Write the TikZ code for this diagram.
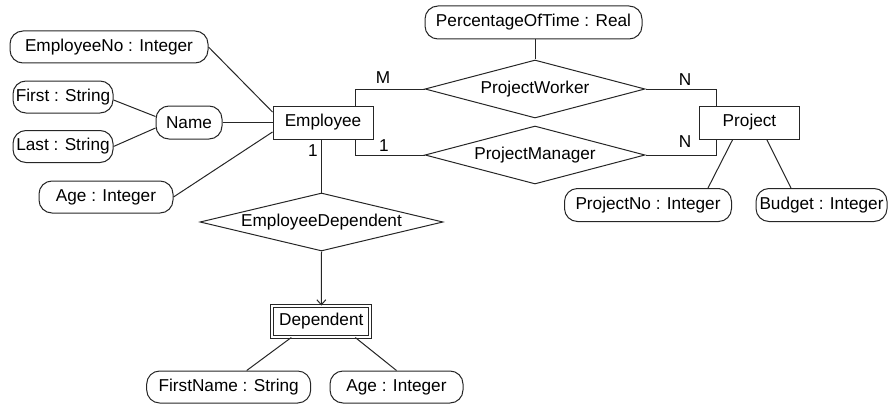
\documentclass[tikz,border=0pt]{standalone}
\usepackage{fontspec}
\setmainfont{Liberation Sans}
\usetikzlibrary{shapes.geometric,arrows.meta}
\begin{document}
\begin{tikzpicture}[x=1pt,y=-1pt,
  every node/.style={font=\fontsize{17.2}{20}\selectfont, inner sep=0pt},
  link/.style={line width=1pt, draw=black!85},
  attr/.style={draw=black!85, line width=1pt, rounded corners=13pt, minimum height=32pt},
  entity/.style={draw=black!85, line width=1pt, minimum width=100pt, minimum height=33pt},
  weakentity/.style={draw=black!85, line width=1pt, double, double distance=1.7pt,
    minimum width=98pt, minimum height=31pt},
  relation/.style={draw=black!85, line width=1pt, shape=diamond, shape aspect=4.2,
    minimum height=58pt},
  card/.style={inner sep=0pt}
]
\useasboundingbox (0,0) rectangle (891,404);

% entities
\node[entity] (emp) at (323,122.5) {Employee};
\node[entity] (proj) at (749.5,122.5) {Project};
\node[weakentity] (dep) at (321.3,321.5) {Dependent};

% relationships
\node[relation, minimum width=220pt] (pw) at (535,89) {ProjectWorker};
\node[relation, minimum width=220pt] (pm) at (535,155) {ProjectManager};
\node[relation, minimum width=243pt] (ed) at (321.5,222) {EmployeeDependent};

% attributes
\node[attr, minimum width=198pt] (empno) at (109,47) {EmployeeNo : Integer};
\node[attr, minimum width=100pt] (first) at (63,97) {First : String};
\node[attr, minimum width=100pt] (last) at (63,146.5) {Last : String};
\node[attr, minimum width=66pt, minimum height=33pt] (name) at (189,122.5) {Name};
\node[attr, minimum width=134pt] (age) at (106,197) {Age : Integer};
\node[attr, minimum width=217pt, minimum height=33pt] (pct) at (533.5,22.5) {PercentageOfTime : Real};
\node[attr, minimum width=167pt, minimum height=33pt] (projno) at (648,205) {ProjectNo : Integer};
\node[attr, minimum width=131pt, minimum height=33pt] (budget) at (821.5,205) {Budget : Integer};
\node[attr, minimum width=164pt] (fname) at (228.7,387) {FirstName : String};
\node[attr, minimum width=133pt] (age2) at (396.5,387) {Age : Integer};

% attribute links
\draw[link] (empno.east) -- ([yshift=10.5pt]emp.west);
\draw[link] (name.east) -- (emp.west);
\draw[link] (age.east) -- ([yshift=-9.5pt]emp.west);
\draw[link] ([yshift=-3pt]first.east) -- ([yshift=6pt]name.west);
\draw[link] (last.east) -- ([yshift=-5.5pt]name.west);
\draw[link] (pw.north |- pct.south) -- (pw.north);
\draw[link] ([xshift=-16.8pt]proj.south) -- ([xshift=60pt]projno.north);
\draw[link] ([xshift=17.2pt]proj.south) -- ([xshift=-30.5pt]budget.north);
\draw[link] ([xshift=-30pt]dep.south) -- ([xshift=18pt]fname.north);
\draw[link] ([xshift=34pt]dep.south) -- (age2.north);

% relationship links
\draw[link] ([xshift=32pt]emp.north) |- (pw.west);
\draw[link] ([xshift=32pt]emp.south) |- (pm.west);
\draw[link] (pw.east) -| ([xshift=-32.8pt]proj.north);
\draw[link] (pm.east) -| ([xshift=-32.8pt]proj.south);
\draw[link] (ed.north |- emp.south) -- (ed.north);
\draw[link, -{Straight Barb[length=5pt,width=9pt]}] (ed.south) -- (dep.north);

% cardinalities
\node[card] (cM) at (383,78) {M};
\node[card] (c1a) at (384,145.3) {1};
\node[card] (c1b) at (313,150.5) {1};
\node[card] (cN1) at (685,80) {N};
\node[card] (cN2) at (685,141.3) {N};
\end{tikzpicture}
\end{document}
